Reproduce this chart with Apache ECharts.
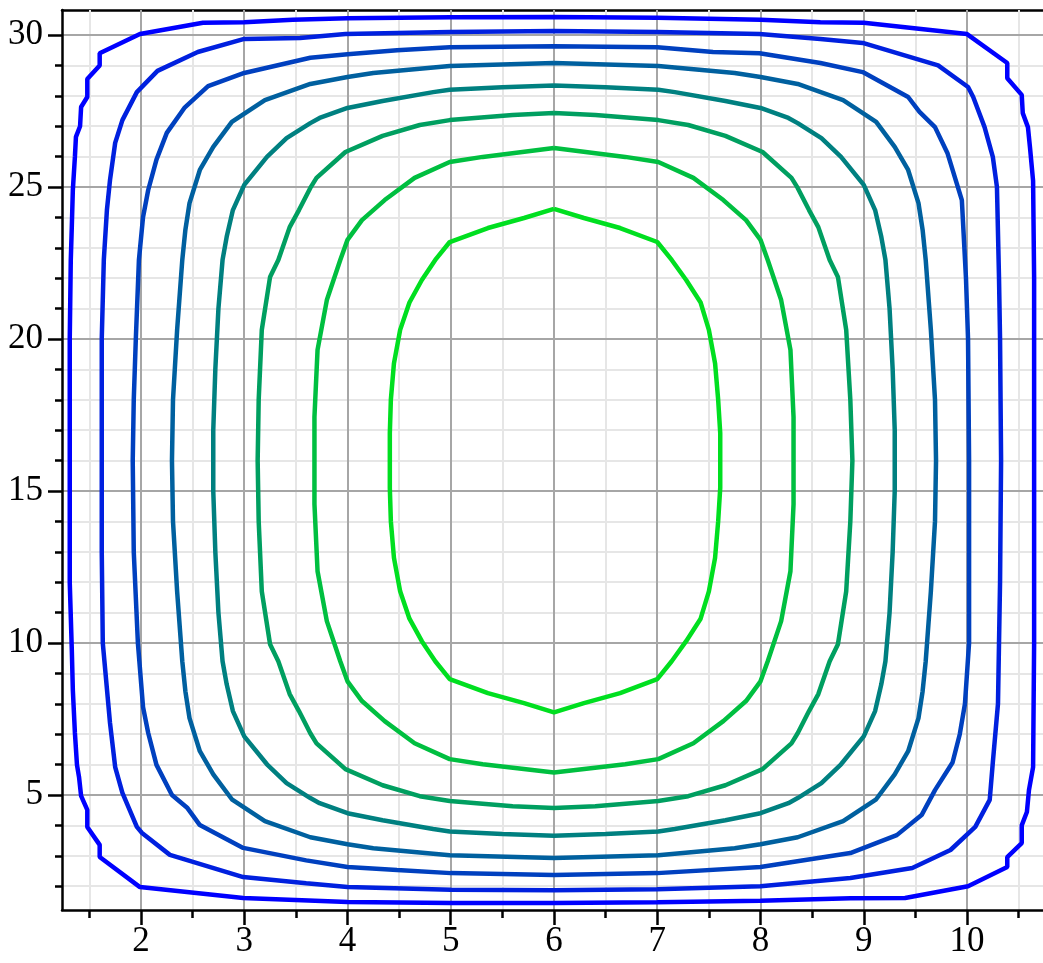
<!DOCTYPE html>
<html>
<head>
<meta charset="utf-8">
<script src="https://cdn.jsdelivr.net/npm/echarts@6/dist/echarts.min.js"></script>
<style>
html,body{margin:0;padding:0;background:#fff;}
#chart{width:1043px;height:963px;}
</style>
</head>
<body>
<div id="chart"></div>
<script>
// axis ranges and tick values
const xRange = [1.235, 10.736];
const yRange = [1.217, 30.822];
const xMajorTicks = [2, 3, 4, 5, 6, 7, 8, 9, 10];
const xMinorTicks = [1.5, 2.5, 3.5, 4.5, 5.5, 6.5, 7.5, 8.5, 9.5, 10.5];
const yMajorTicks = [5, 10, 15, 20, 25, 30];
const yMinorTicks = [2, 3, 4, 6, 7, 8, 9, 11, 12, 13, 14, 16, 17, 18, 19, 21, 22, 23, 24, 26, 27, 28, 29];

// contour lines, outermost (1) to innermost (8)
const contour1 = [[6,30.59],[7,30.57],[8,30.5],[8.58,30.42],[9,30.4],[10,30.03],[10.39,29.08],[10.39,28.58],[10.53,28.03],[10.54,27.43],[10.59,26.97],[10.61,26.3],[10.64,25.2],[10.65,22.0],[10.65,16.0],[10.65,10.0],[10.64,5.92],[10.6,5.16],[10.58,4.44],[10.53,4.0],[10.53,3.42],[10.39,2.96],[10.39,2.63],[10.01,2.0],[9.4,1.61],[8.87,1.6],[8,1.52],[7,1.47],[6,1.45],[5,1.45],[4,1.48],[2.99,1.61],[1.99,1.97],[1.6,2.96],[1.6,3.36],[1.48,3.95],[1.48,4.51],[1.42,4.97],[1.4,5.59],[1.38,5.99],[1.36,7.04],[1.34,8.45],[1.33,9.77],[1.31,12.0],[1.31,16.0],[1.31,20.0],[1.32,22.6],[1.33,23.7],[1.34,24.9],[1.36,25.99],[1.37,26.65],[1.41,27.0],[1.42,27.63],[1.48,27.96],[1.48,28.55],[1.6,29.0],[1.6,29.4],[1.99,30.03],[2.6,30.4],[3.0,30.42],[3.47,30.5],[4,30.55],[5,30.58],[6,30.59]];
const contour2 = [[6,30.13],[7,30.1],[7.99,30.03],[8.58,29.87],[8.99,29.74],[9.72,29.0],[10.01,28.29],[10.06,27.96],[10.17,26.97],[10.25,25.99],[10.29,25.0],[10.31,22.0],[10.32,20.0],[10.33,16.0],[10.32,12.0],[10.3,8.0],[10.25,6.07],[10.22,4.84],[10.08,3.95],[9.84,3.19],[9.47,2.6],[8.87,2.27],[8.0,2.0],[7.0,1.9],[6,1.87],[5,1.88],[4.0,1.97],[3.6,2.1],[2.99,2.3],[2.28,3.03],[2.01,3.75],[1.96,3.95],[1.82,5.07],[1.75,5.92],[1.7,7.37],[1.63,10.0],[1.62,13.0],[1.62,16.0],[1.62,20.0],[1.64,22.6],[1.67,24.24],[1.7,25.23],[1.75,26.45],[1.82,27.2],[1.96,28.12],[2.16,28.82],[2.55,29.44],[3.0,29.87],[3.54,29.9],[3.98,30.03],[4.99,30.1],[6,30.13]];
const contour3 = [[6,29.63],[7,29.6],[7.54,29.44],[7.99,29.4],[8.58,29.08],[8.99,28.78],[9.43,27.96],[9.54,27.47],[9.69,26.97],[9.81,26.12],[9.95,24.57],[9.99,22.0],[10.01,20.0],[10.02,16.0],[10.02,10.0],[9.98,8.0],[9.93,7.0],[9.86,6.07],[9.69,5.16],[9.56,4.34],[9.32,3.68],[8.87,3.09],[8.0,2.63],[7.0,2.43],[6,2.37],[5,2.43],[4.48,2.53],[4.0,2.63],[3.6,2.85],[2.99,3.26],[2.57,4.01],[2.45,4.57],[2.3,5.0],[2.15,5.99],[2.07,7.04],[2.02,7.89],[1.97,10.0],[1.93,13.0],[1.92,16.0],[1.93,18.0],[1.95,20.0],[1.98,22.6],[2.02,24.01],[2.07,24.9],[2.15,25.9],[2.25,26.78],[2.42,27.6],[2.65,28.32],[3.0,28.75],[3.64,29.25],[4.0,29.37],[4.48,29.5],[4.99,29.6],[6,29.63]];
const contour4 = [[6,29.08],[7.01,28.98],[7.75,28.75],[8.0,28.62],[8.36,28.39],[8.8,27.86],[9.12,27.14],[9.3,26.32],[9.43,25.56],[9.53,24.47],[9.57,23.59],[9.6,22.6],[9.65,20.3],[9.69,18.0],[9.7,16.0],[9.69,14.0],[9.65,11.7],[9.6,9.4],[9.57,8.41],[9.53,7.53],[9.43,6.44],[9.3,5.68],[9.12,4.86],[8.8,4.14],[8.36,3.61],[8.0,3.38],[7.75,3.25],[7.01,3.02],[6,2.93],[4.99,3.02],[4.25,3.25],[4.0,3.38],[3.64,3.61],[3.2,4.14],[2.88,4.86],[2.7,5.68],[2.57,6.44],[2.47,7.53],[2.43,8.41],[2.4,9.4],[2.35,11.7],[2.31,14.0],[2.3,16.0],[2.31,18.0],[2.35,20.3],[2.4,22.6],[2.43,23.59],[2.47,24.47],[2.57,25.56],[2.7,26.32],[2.88,27.14],[3.2,27.86],[3.64,28.39],[4.0,28.62],[4.25,28.75],[4.99,28.98],[6,29.08]];
const contour5 = [[6,28.34],[6.5,28.28],[7.01,28.2],[7.17,28.12],[7.66,27.83],[8.0,27.6],[8.27,27.27],[8.36,27.1],[8.59,26.61],[8.78,25.99],[9.0,25.07],[9.11,24.24],[9.17,23.36],[9.21,22.6],[9.25,21.0],[9.28,19.0],[9.3,17.0],[9.3,16.0],[9.3,15.0],[9.28,13.0],[9.25,11.0],[9.21,9.4],[9.17,8.64],[9.11,7.76],[9.0,6.93],[8.78,6.01],[8.59,5.39],[8.36,4.9],[8.27,4.73],[8.0,4.4],[7.66,4.17],[7.17,3.88],[7.01,3.8],[6.5,3.72],[6,3.66],[5.5,3.72],[4.99,3.8],[4.83,3.88],[4.34,4.17],[4.0,4.4],[3.73,4.73],[3.64,4.9],[3.41,5.39],[3.22,6.01],[3.0,6.93],[2.89,7.76],[2.83,8.64],[2.79,9.4],[2.75,11.0],[2.72,13.0],[2.7,15.0],[2.7,16.0],[2.7,17.0],[2.72,19.0],[2.75,21.0],[2.79,22.6],[2.83,23.36],[2.89,24.24],[3.0,25.07],[3.22,25.99],[3.41,26.61],[3.64,27.1],[3.73,27.27],[4.0,27.6],[4.34,27.83],[4.83,28.12],[4.99,28.2],[5.5,28.28],[6,28.34]];
const contour6 = [[6,27.43],[6.4,27.37],[7.01,27.2],[7.3,27.04],[7.66,26.68],[8.02,26.15],[8.3,25.3],[8.36,24.97],[8.47,24.24],[8.56,23.68],[8.67,22.6],[8.75,22.04],[8.83,20.3],[8.87,18.0],[8.89,16.0],[8.87,14.0],[8.83,11.7],[8.75,9.96],[8.67,9.4],[8.56,8.32],[8.47,7.76],[8.36,7.03],[8.3,6.7],[8.02,5.85],[7.66,5.32],[7.3,4.96],[7.01,4.8],[6.4,4.63],[6,4.57],[5.6,4.63],[4.99,4.8],[4.7,4.96],[4.34,5.32],[3.98,5.85],[3.7,6.7],[3.64,7.03],[3.53,7.76],[3.44,8.32],[3.33,9.4],[3.25,9.96],[3.17,11.7],[3.14,14.0],[3.13,16.0],[3.14,18.0],[3.17,20.3],[3.25,22.04],[3.33,22.6],[3.44,23.68],[3.53,24.24],[3.64,24.97],[3.7,25.3],[3.98,26.15],[4.34,26.68],[4.7,27.04],[4.99,27.2],[5.6,27.37],[6,27.43]];
const contour7 = [[6,26.28],[6.69,25.99],[7.01,25.82],[7.35,25.3],[7.64,24.57],[7.86,23.91],[8.0,23.26],[8.07,22.6],[8.2,21.28],[8.29,19.64],[8.32,17.43],[8.32,16.0],[8.32,14.57],[8.29,12.36],[8.2,10.72],[8.07,9.4],[8.0,8.74],[7.86,8.09],[7.64,7.43],[7.35,6.7],[7.01,6.18],[6.69,6.01],[6,5.74],[5.31,6.01],[4.99,6.18],[4.65,6.7],[4.36,7.43],[4.14,8.09],[4.0,8.74],[3.93,9.4],[3.8,10.72],[3.71,12.36],[3.68,14.57],[3.68,16.0],[3.68,17.43],[3.71,19.64],[3.8,21.28],[3.93,22.6],[4.0,23.26],[4.14,23.91],[4.36,24.57],[4.65,25.3],[4.99,25.82],[5.31,25.99],[6,26.28]];
const contour8 = [[6,24.28],[6.29,23.98],[6.64,23.65],[7.0,23.19],[7.14,22.6],[7.28,21.94],[7.42,21.2],[7.5,20.3],[7.56,19.2],[7.59,18.0],[7.61,16.9],[7.61,16.0],[7.61,15.1],[7.59,14.0],[7.56,12.8],[7.5,11.7],[7.42,10.8],[7.28,10.06],[7.14,9.4],[7.0,8.81],[6.64,8.35],[6.29,8.02],[6.0,7.72],[5.71,8.02],[5.36,8.35],[4.99,8.81],[4.85,9.4],[4.72,10.06],[4.6,10.8],[4.51,11.7],[4.45,12.8],[4.42,14.0],[4.41,15.1],[4.41,16.0],[4.41,16.9],[4.42,18.0],[4.45,19.2],[4.51,20.3],[4.6,21.2],[4.72,21.94],[4.85,22.6],[4.99,23.19],[5.36,23.65],[5.71,23.98],[6,24.28]];

const contours = [contour1, contour2, contour3, contour4, contour5, contour6, contour7, contour8];
const contourColors = ['#0000ff', '#0020df', '#0040bf', '#00609f', '#008080', '#009f60', '#00bf40', '#00df20'];

const chart = echarts.init(document.getElementById('chart'), null, {renderer: 'canvas'});
const labelFont = {fontFamily: 'Liberation Serif', fontSize: 35, color: '#000'};

const option = {
  animation: false,
  backgroundColor: '#fff',
  grid: {left: 62, right: 0, top: 10, bottom: 53, containLabel: false},
  xAxis: [
    {
      type: 'value', min: xRange[0], max: xRange[1], position: 'bottom',
      axisLine: {show: true, onZero: false, lineStyle: {color: '#000', width: 2.5}},
      axisTick: {show: true, customValues: xMajorTicks, length: 15, lineStyle: {color: '#000', width: 2.5}},
      axisLabel: Object.assign({show: true, customValues: xMajorTicks, margin: 14}, labelFont),
      splitLine: {show: true, lineStyle: {color: '#a6a6a6', width: 2}},
      z: 3
    },
    {
      type: 'value', min: xRange[0], max: xRange[1], position: 'bottom',
      axisLine: {show: false},
      axisTick: {show: true, customValues: xMinorTicks, length: 8, lineStyle: {color: '#000', width: 2.5}},
      axisLabel: {show: false},
      splitLine: {show: true, lineStyle: {color: '#e6e6e6', width: 2}},
      z: 2
    },
    {
      type: 'value', min: xRange[0], max: xRange[1], position: 'top',
      axisLine: {show: true, onZero: false, lineStyle: {color: '#000', width: 2.5}},
      axisTick: {show: false}, axisLabel: {show: false}, splitLine: {show: false}
    }
  ],
  yAxis: [
    {
      type: 'value', min: yRange[0], max: yRange[1], position: 'left',
      axisLine: {show: true, onZero: false, lineStyle: {color: '#000', width: 2.5}},
      axisTick: {show: true, customValues: yMajorTicks, length: 14, lineStyle: {color: '#000', width: 2.5}},
      axisLabel: Object.assign({show: true, customValues: yMajorTicks, margin: 19}, labelFont),
      splitLine: {show: true, lineStyle: {color: '#a6a6a6', width: 2}},
      z: 3
    },
    {
      type: 'value', min: yRange[0], max: yRange[1], position: 'left',
      axisLine: {show: false},
      axisTick: {show: true, customValues: yMinorTicks, length: 7, lineStyle: {color: '#000', width: 2.5}},
      axisLabel: {show: false},
      splitLine: {show: true, lineStyle: {color: '#e6e6e6', width: 2}},
      z: 2
    }
  ],
  series: contours.map((pts, i) => ({
    type: 'line',
    xAxisIndex: 0,
    yAxisIndex: 0,
    data: pts,
    symbol: 'none',
    showSymbol: false,
    smooth: false,
    clip: true,
    lineStyle: {color: contourColors[i], width: 4.5},
    itemStyle: {color: contourColors[i]},
    z: 10
  }))
};
chart.setOption(option);
</script>
</body>
</html>
